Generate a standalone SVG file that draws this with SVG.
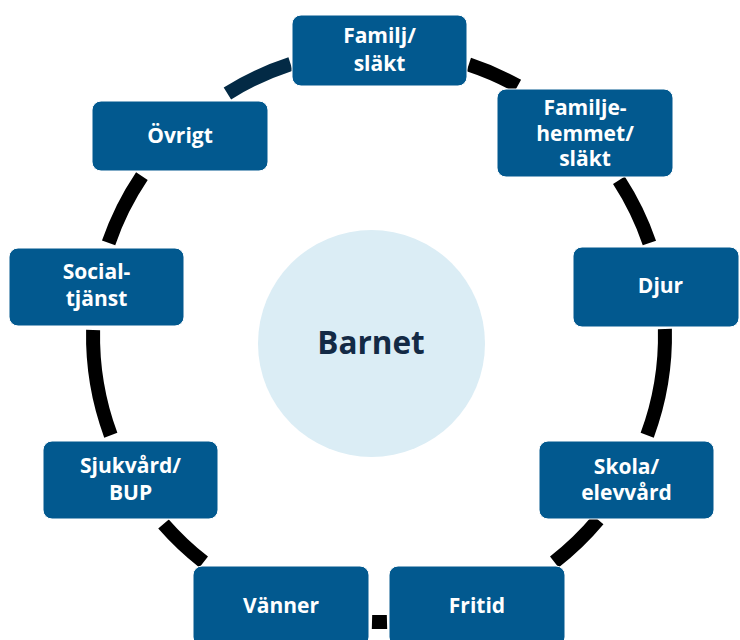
<svg xmlns="http://www.w3.org/2000/svg" width="740" height="640" viewBox="0 0 740 640">
  <style>
    .ring { fill: none; stroke: #000000; stroke-width: 14; stroke-linecap: butt; }
    .ring.navy { stroke: #032a45; }
    .box { fill: #02598f; stroke: #ffffff; stroke-width: 1; }
    .lbl { font-family: "Open Sans", "Noto Sans", "DejaVu Sans", sans-serif; font-weight: 700; font-size: 21px; fill: #ffffff; text-anchor: middle; }
    .center { fill: #dbedf5; }
    .centerlbl { font-family: "Open Sans", "Noto Sans", "DejaVu Sans", sans-serif; font-weight: 700; font-size: 31.5px; fill: #132a45; text-anchor: middle; }
  </style>
  <rect width="740" height="640" fill="#ffffff"/>

  <g id="connectors">
    <path class="ring" d="M 468.8 64.5 A 286 286 0 0 1 517.7 85.9"/>
    <path class="ring" d="M 618.9 180.2 A 286 286 0 0 1 649.4 242.9"/>
    <path class="ring" d="M 664.9 329.0 A 286 286 0 0 1 647.2 435.2"/>
    <path class="ring" d="M 598.1 519.8 A 286 286 0 0 1 554.3 562.0"/>
    <path class="ring" d="M 387.0 621.9 A 286 286 0 0 1 372.0 621.9"/>
    <path class="ring" d="M 203.7 562.0 A 286 286 0 0 1 163.5 524.0"/>
    <path class="ring" d="M 110.8 435.2 A 286 286 0 0 1 93.1 330.0"/>
    <path class="ring" d="M 108.6 242.9 A 286 286 0 0 1 141.9 176.1"/>
    <path class="ring navy" d="M 227.4 93.5 A 286 286 0 0 1 290.6 64.0"/>
  </g>

  <g id="barnet">
    <circle class="center" cx="371.5" cy="343.5" r="113.5"/>
    <text class="centerlbl" x="371" y="354">Barnet</text>
  </g>

  <g id="familj">
    <rect class="box" x="292" y="15" width="175" height="71" rx="9"/>
    <text class="lbl" x="379.5" y="43">Familj/</text>
    <text class="lbl" x="379.5" y="71">släkt</text>
  </g>

  <g id="familjehemmet">
    <rect class="box" x="497" y="89" width="176" height="88" rx="9"/>
    <text class="lbl" x="585" y="115">Familje-</text>
    <text class="lbl" x="585" y="141">hemmet/</text>
    <text class="lbl" x="585" y="166">släkt</text>
  </g>

  <g id="djur">
    <rect class="box" x="573" y="247" width="166" height="80" rx="9"/>
    <text class="lbl" x="660.5" y="293">Djur</text>
  </g>

  <g id="skola">
    <rect class="box" x="539" y="441" width="175" height="78" rx="9"/>
    <text class="lbl" x="626.5" y="474">Skola/</text>
    <text class="lbl" x="626.5" y="500">elevvård</text>
  </g>

  <g id="fritid">
    <rect class="box" x="389" y="566" width="176" height="80" rx="9"/>
    <text class="lbl" x="477" y="613">Fritid</text>
  </g>

  <g id="vanner">
    <rect class="box" x="193" y="566" width="176" height="80" rx="9"/>
    <text class="lbl" x="281" y="613">Vänner</text>
  </g>

  <g id="sjukvard">
    <rect class="box" x="43" y="441" width="175" height="78" rx="9"/>
    <text class="lbl" x="130.5" y="473">Sjukvård/</text>
    <text class="lbl" x="130.5" y="500">BUP</text>
  </g>

  <g id="social">
    <rect class="box" x="9" y="248" width="175" height="78" rx="9"/>
    <text class="lbl" x="96.5" y="279">Social-</text>
    <text class="lbl" x="96.5" y="306">tjänst</text>
  </g>

  <g id="ovrigt">
    <rect class="box" x="92" y="101" width="176" height="70" rx="9"/>
    <text class="lbl" x="180" y="143">Övrigt</text>
  </g>
</svg>
